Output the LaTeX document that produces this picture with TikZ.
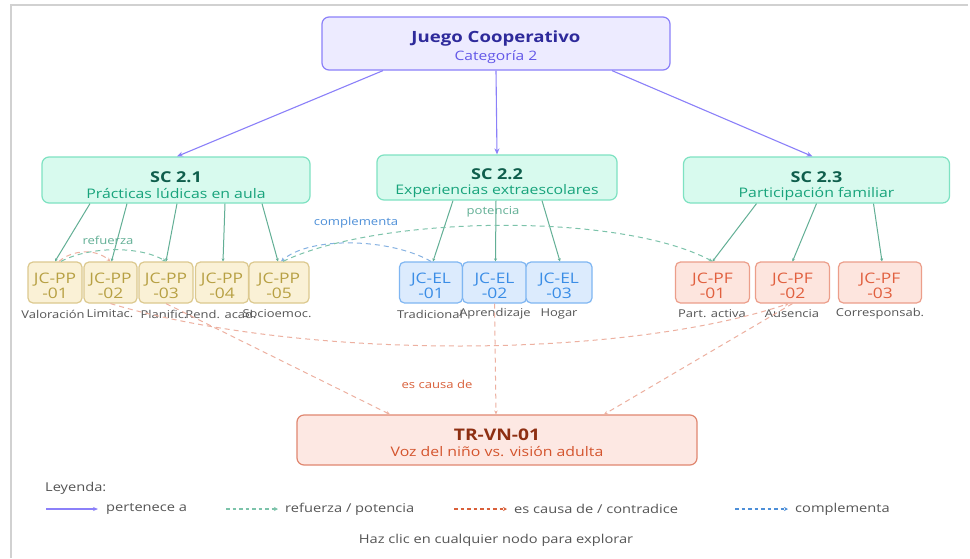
\documentclass[tikz,border=0pt]{standalone}
\usepackage{fontspec}
\setmainfont{Open Sans}[FakeStretch=1.2]
\usetikzlibrary{arrows.meta}
\definecolor{purp}{HTML}{8B80F9}
\definecolor{topfill}{HTML}{EDEBFF}
\definecolor{toptitle}{HTML}{2E2A9B}
\definecolor{topsub}{HTML}{6358E8}
\definecolor{scfill}{HTML}{D8FAEE}
\definecolor{scdraw}{HTML}{7EE2C2}
\definecolor{sctitle}{HTML}{0F5E4C}
\definecolor{scsub}{HTML}{17A37B}
\definecolor{grn}{HTML}{62AF95}
\definecolor{grnd}{HTML}{7CC3AA}
\definecolor{ppfill}{HTML}{FAF1D6}
\definecolor{ppdraw}{HTML}{DCC98F}
\definecolor{pptext}{HTML}{B7A043}
\definecolor{elfill}{HTML}{DCEBFD}
\definecolor{eldraw}{HTML}{7FB6F2}
\definecolor{eltext}{HTML}{3A8DE6}
\definecolor{pffill}{HTML}{FDE5DE}
\definecolor{pfdraw}{HTML}{EC9E8A}
\definecolor{pftext}{HTML}{E1603F}
\definecolor{trfill}{HTML}{FDE8E3}
\definecolor{trdraw}{HTML}{E08770}
\definecolor{trtitle}{HTML}{8E2F12}
\definecolor{trsub}{HTML}{D4542D}
\definecolor{redd}{HTML}{EDB0A0}
\definecolor{redl}{HTML}{D9603A}
\definecolor{blued}{HTML}{86B2E2}
\definecolor{bluel}{HTML}{4D8FD8}
\definecolor{graytxt}{HTML}{555555}
% #1 name, #2 kind (pp/el/pf), #3 x, #4 width, #5 number
\newcommand\leafnode[5]{%
  \node[#2box, minimum width=#4pt] (#1) at (#3,282.5) {};
  \node[leaftxt, text=#2text] (#1t) at (#3,285.5) {JC-\MakeUppercase{#2}\\-#5};
}
\begin{document}
\begin{tikzpicture}[x=1pt,y=-1pt,
  nbox/.style={draw, rounded corners=7pt, line width=1.2pt, inner sep=0pt},
  topbox/.style={nbox, fill=topfill, draw=purp},
  scbox/.style={nbox, fill=scfill, draw=scdraw},
  trbox/.style={nbox, fill=trfill, draw=trdraw},
  leafbox/.style={nbox, rounded corners=5pt, minimum height=41pt},
  ppbox/.style={leafbox, fill=ppfill, draw=ppdraw},
  elbox/.style={leafbox, fill=elfill, draw=eldraw},
  pfbox/.style={leafbox, fill=pffill, draw=pfdraw},
  leaftxt/.style={inner sep=0pt, align=center, font=\fontsize{14.5}{15}\selectfont},
  ttl/.style={inner sep=0pt, font=\bfseries\fontsize{15}{17}\selectfont},
  subt/.style={inner sep=0pt, font=\fontsize{13.2}{15}\selectfont},
  leafcap/.style={inner sep=0pt, text=graytxt, font=\fontsize{10.8}{12}\selectfont},
  lbl/.style={inner sep=0pt, font=\fontsize{10.9}{12}\selectfont},
  legtxt/.style={inner sep=0pt, text=graytxt, anchor=west, font=\fontsize{12.2}{14}\selectfont},
  belongs/.style={draw=purp, line width=1.1pt, -{Stealth[length=6pt,width=5pt]}},
  member/.style={draw=grn, line width=1pt, -{Stealth[length=3pt,width=3pt]}},
  reinf/.style={draw=grnd, line width=1pt, dash pattern=on 5pt off 4pt, -{Stealth[length=4pt,width=3.5pt]}},
  cause/.style={draw=redd, line width=1pt, dash pattern=on 5pt off 4pt, -{Stealth[length=4pt,width=3.5pt]}},
  compl/.style={draw=blued, line width=1pt, dash pattern=on 5pt off 4pt, -{Stealth[length=4pt,width=3.5pt]}},
]
\useasboundingbox (0,0) rectangle (970,558);
\fill[white] (0,0) rectangle (970,558);
\draw[black!18, line width=2pt] (11,558) -- (11,5) -- (968,5);

% top node
\node[topbox, minimum width=348pt, minimum height=53pt] (top) at (496,43.5) {};
\node[ttl, text=toptitle, font=\bfseries\fontsize{15.5}{18}\selectfont] (topT) at (496,38.5) {Juego Cooperativo};
\node[subt, text=topsub, font=\fontsize{13}{15}\selectfont] (topS) at (496,57) {Categoría 2};

% subcategories
\node[scbox, minimum width=268pt, minimum height=46pt] (sc1) at (176,180) {};
\node[ttl, text=sctitle] (sc1T) at (176,177) {SC 2.1};
\node[subt, text=scsub] (sc1S) at (176,194) {Prácticas lúdicas en aula};
\node[scbox, minimum width=240pt, minimum height=45pt] (sc2) at (497,177.5) {};
\node[ttl, text=sctitle] (sc2T) at (497,174) {SC 2.2};
\node[subt, text=scsub] (sc2S) at (497,191.5) {Experiencias extraescolares};
\node[scbox, minimum width=266pt, minimum height=46pt] (sc3) at (816.5,180) {};
\node[ttl, text=sctitle] (sc3T) at (816.5,177) {SC 2.3};
\node[subt, text=scsub] (sc3S) at (816.5,194) {Participación familiar};

% leaf boxes
\leafnode{pp1}{pp}{55}{54}{01}
\leafnode{pp2}{pp}{110.5}{53}{02}
\leafnode{pp3}{pp}{166}{54}{03}
\leafnode{pp4}{pp}{222}{53}{04}
\leafnode{pp5}{pp}{279}{60}{05}
\leafnode{el1}{el}{431}{63}{01}
\leafnode{el2}{el}{494.5}{64}{02}
\leafnode{el3}{el}{559}{66}{03}
\leafnode{pf1}{pf}{712.5}{74}{01}
\leafnode{pf2}{pf}{792.5}{74}{02}
\leafnode{pf3}{pf}{880}{83}{03}

% captions
\node[leafcap] (c1) at (53,314) {Valoración};
\node[leafcap] (c2) at (110,314) {Limitac.};
\node[leafcap] (c3) at (164,314) {Planific.};
\node[leafcap] (c4) at (221,314) {Rend. acad.};
\node[leafcap] (c5) at (277,314) {Socioemoc.};
\node[leafcap] (c6) at (430,314) {Tradicional};
\node[leafcap] (c7) at (495,314) {Aprendizaje};
\node[leafcap] (c8) at (559,314) {Hogar};
\node[leafcap] (c9) at (712,314) {Part. activa};
\node[leafcap] (c10) at (792,314) {Ausencia};
\node[leafcap] (c11) at (880,314) {Corresponsab.};

% tension node
\node[trbox, minimum width=400pt, minimum height=50pt] (tr) at (497,440) {};
\node[ttl, text=trtitle, font=\bfseries\fontsize{16}{18}\selectfont] (trT) at (497,435) {TR-VN-01};
\node[subt, text=trsub] (trS) at (497,452) {Voz del niño vs. visión adulta};

% belongs-to arrows
\draw[belongs] ([xshift=-113pt]top.south) -- ([xshift=1pt]sc1.north);
\draw[belongs] (top.south) -- (sc2.north);
\draw[belongs] ([xshift=116pt]top.south) -- ([xshift=-4pt]sc3.north);

% members
\draw[member] ([xshift=-86pt]sc1.south) -- (pp1.north);
\draw[member] ([xshift=-49pt]sc1.south) -- ([xshift=1pt]pp2.north);
\draw[member] ([xshift=1pt]sc1.south) -- (pp3.north);
\draw[member] ([xshift=49pt]sc1.south) -- ([xshift=1pt]pp4.north);
\draw[member] ([xshift=86pt]sc1.south) -- ([xshift=-1pt]pp5.north);
\draw[member] ([xshift=-44pt]sc2.south) -- ([xshift=2pt]el1.north);
\draw[member] ([xshift=-1pt]sc2.south) -- ([xshift=1pt]el2.north);
\draw[member] ([xshift=45pt]sc2.south) -- ([xshift=1pt]el3.north);
\draw[member] ([xshift=-60pt]sc3.south) -- (pf1.north);
\draw[member] ([xshift=0pt]sc3.south) -- (pf2.north);
\draw[member] ([xshift=57pt]sc3.south) -- ([xshift=2pt]pf3.north);

% reinforcing / complementary relations
\draw[cause] ([xshift=4pt]pp1.north) .. controls (72,250) and (95,248) .. (pp2.north);
\draw[reinf] ([xshift=6pt]pp1.north) .. controls (90,246) and (140,246) .. (pp3.north);
\node[lbl, text=grn] (lr) at (108,240) {refuerza};
\draw[compl] (el1.north) .. controls (390,238) and (310,236) .. ([xshift=2pt]pp5.north);
\node[lbl, text=bluel] (lc) at (356,223) {complementa};
\draw[reinf] ([xshift=4pt]pp5.north) .. controls (380,215) and (620,212) .. (pf1.north);
\node[lbl, text=grn] (lp) at (493,212) {potencia};

% causes
\draw[cause] (pp2.south) .. controls (300,360) and (620,360) .. ([xshift=-4pt]pf2.south);
\draw[cause] (pp3.south) -- ([xshift=-107pt]tr.north);
\draw[cause] (el2.south) -- ([xshift=-1pt]tr.north);
\draw[cause] (pf2.south) -- ([xshift=107pt]tr.north);
\node[lbl, text=redl] (le) at (437,384) {es causa de};

% legend
\node[legtxt] (leg) at (45,488.5) {Leyenda:};
\coordinate (l1a) at (46,509); \coordinate (l1b) at (98,509);
\draw[draw=purp, line width=1.3pt, -{Stealth[length=5pt,width=4pt]}] (l1a) -- (l1b);
\node[legtxt] (leg1) at (106,509) {pertenece a};
\coordinate (l2a) at (226,509); \coordinate (l2b) at (278,509);
\draw[draw=grnd, line width=1.3pt, dash pattern=on 3.5pt off 3pt, -{Stealth[length=4pt,width=4pt]}] (l2a) -- (l2b);
\node[legtxt] (leg2) at (285,509) {refuerza / potencia};
\coordinate (l3a) at (454,509); \coordinate (l3b) at (507,509);
\draw[draw=redl, line width=1.3pt, dash pattern=on 3.5pt off 3pt, -{Stealth[length=4pt,width=4pt]}] (l3a) -- (l3b);
\node[legtxt] (leg3) at (514,509) {es causa de / contradice};
\coordinate (l4a) at (735,509); \coordinate (l4b) at (788,509);
\draw[draw=bluel, line width=1.3pt, dash pattern=on 3.5pt off 3pt, -{Stealth[length=4pt,width=4pt]}] (l4a) -- (l4b);
\node[legtxt] (leg4) at (795,509) {complementa};
\node[legtxt, anchor=center] (foot) at (496,540) {Haz clic en cualquier nodo para explorar};
\end{tikzpicture}
\end{document}
